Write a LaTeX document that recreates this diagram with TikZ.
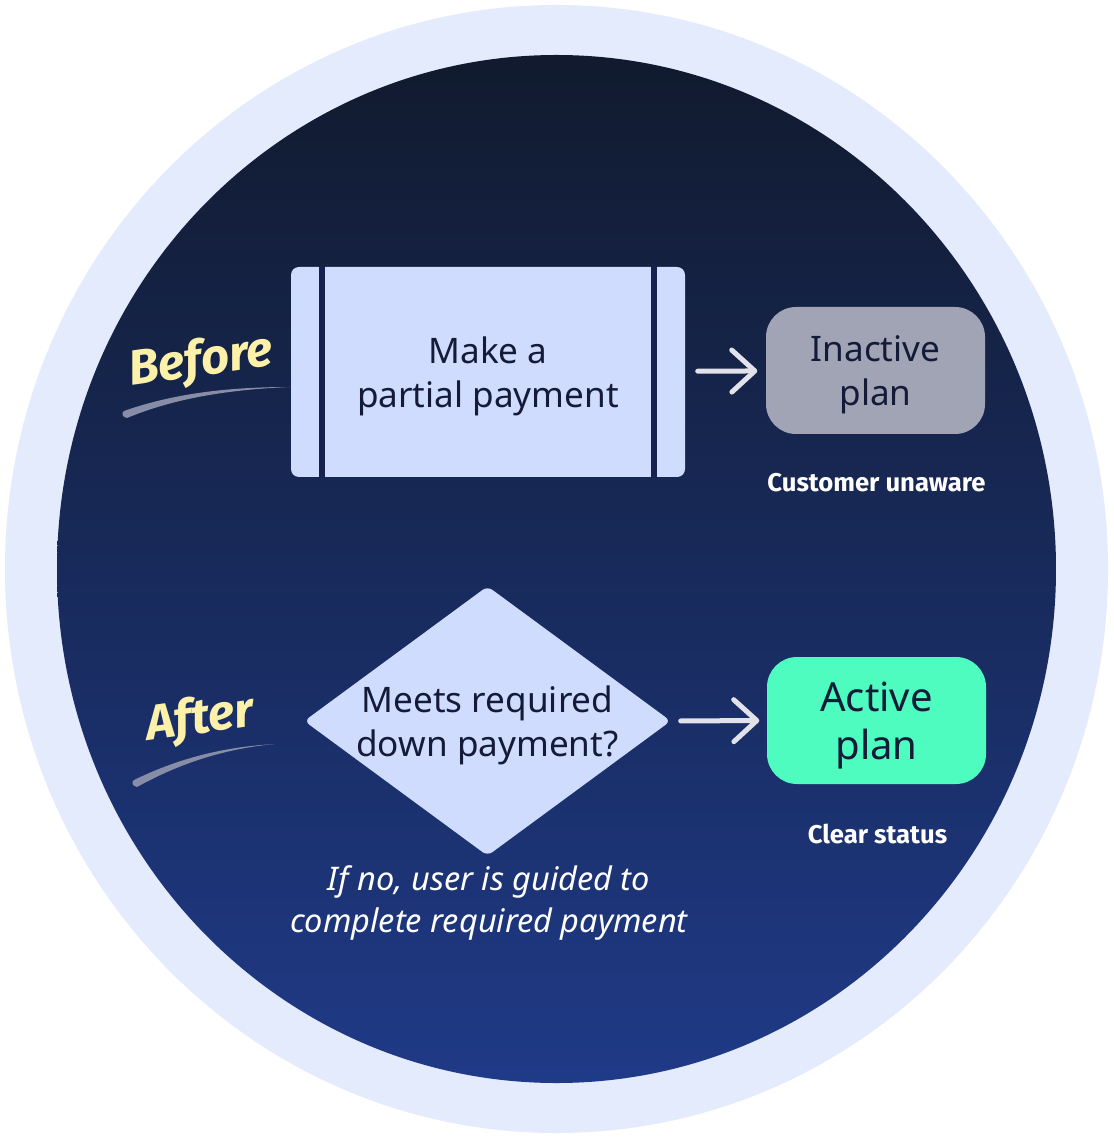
\documentclass[tikz,border=0pt]{standalone}
\usepackage{fontspec}
\setmainfont{Noto Sans}
\newfontfamily\handfont{Fira Sans}
\newfontfamily\capfont{Fira Sans}
\usetikzlibrary{arrows.meta,shapes.geometric}

\definecolor{ringcol}{HTML}{E4EBFD}
\definecolor{nighttop}{HTML}{111A2E}
\definecolor{nightbot}{HTML}{1F3A87}
\definecolor{boxcol}{HTML}{D0DCFD}
\definecolor{barcol}{HTML}{16224D}
\definecolor{greycol}{HTML}{A0A4B5}
\definecolor{mintcol}{HTML}{4EFCC0}
\definecolor{inkcol}{HTML}{141B38}
\definecolor{arrowcol}{HTML}{E2E3EA}
\definecolor{chalkcol}{HTML}{FDF1A9}
\definecolor{swooshcol}{HTML}{878DA6}

\begin{document}
\begin{tikzpicture}[
  procbox/.style={rectangle, fill=boxcol, rounded corners=0.08cm, minimum width=3.94cm, minimum height=2.10cm, inner sep=0pt, align=center, text=inkcol, text depth=0pt, font=\fontsize{10}{12.5}\selectfont},
  planbox/.style={rectangle, rounded corners=0.3cm, minimum width=2.19cm, minimum height=1.27cm, inner sep=0pt, align=center, text=inkcol, text depth=0pt},
  decision/.style={diamond, fill=boxcol, rounded corners=0.06cm, minimum width=3.67cm, minimum height=2.70cm, inner sep=0pt},
  flow/.style={draw=arrowcol, line width=0.05cm, line cap=round, -{Straight Barb[length=0.23cm,width=0.42cm,round]}},
  caption/.style={text=white, font=\capfont\bfseries\fontsize{7.3}{9}\selectfont},
  note/.style={text=white, align=center, font=\itshape\fontsize{9.25}{12.2}\selectfont},
  hand/.style={text=chalkcol, font=\handfont\bfseries\itshape\fontsize{14}{16}\selectfont, rotate=8},
  swoosh/.style={fill=swooshcol}
]

%%% 背景
\useasboundingbox (0,0) rectangle (11.13,-11.38);
\fill[white] (0,0) rectangle (11.13,-11.38);
\fill[ringcol] (5.565,-5.69) ellipse [x radius=5.515, y radius=5.64];
\shade[top color=nighttop, bottom color=nightbot] (5.565,-5.69) ellipse [x radius=4.995, y radius=5.14];
%%%

%% Before
\node[procbox] (partial) at (4.88,-3.72) {Make a\\partial payment};
\draw[barcol, line width=0.06cm] ([xshift=0.32cm]partial.north west) -- ([xshift=0.32cm]partial.south west);
\draw[barcol, line width=0.06cm] ([xshift=-0.32cm]partial.north east) -- ([xshift=-0.32cm]partial.south east);

\node[planbox, fill=greycol, font=\fontsize{10}{12.5}\selectfont] (inactive) at (8.755,-3.705) {Inactive\\plan};
\node[caption] (unaware) at (8.765,-4.83) {Customer unaware};

\draw[flow, shorten <=0.12cm, shorten >=0.08cm] (partial) -- (inactive);

%% After
\node[decision, label={[text=inkcol, align=center, text depth=0pt, font=\fontsize{10}{12.5}\selectfont]center:Meets required\\down payment?}] (meets) at (4.875,-7.21) {};
\node[planbox, fill=mintcol, font=\fontsize{11.4}{13.7}\selectfont] (active) at (8.765,-7.205) {Active\\plan};
\node[caption] (clear) at (8.775,-8.34) {Clear status};

\draw[flow, shorten <=0.09cm, shorten >=0.07cm] (meets.east) -- (active.west);

\node[note] (guided) at (4.89,-9.03) {If no, user is guided to\\complete required payment};

%% 手書き
\node[hand] (before) at (2.01,-3.62) {Before};
\fill[swoosh] (1.24,-4.11) .. controls (1.75,-3.93) and (2.3,-3.87) .. (2.90,-3.87)
  .. controls (2.3,-3.895) and (1.75,-3.98) .. (1.27,-4.18)
  .. controls (1.22,-4.17) and (1.21,-4.13) .. (1.24,-4.11) -- cycle;

\node[hand] (after) at (2.0,-7.20) {After};
\fill[swoosh] (1.34,-7.80) .. controls (1.75,-7.60) and (2.2,-7.47) .. (2.75,-7.44)
  .. controls (2.2,-7.49) and (1.75,-7.66) .. (1.37,-7.87)
  .. controls (1.32,-7.86) and (1.31,-7.82) .. (1.34,-7.80) -- cycle;

\end{tikzpicture}
\end{document}
